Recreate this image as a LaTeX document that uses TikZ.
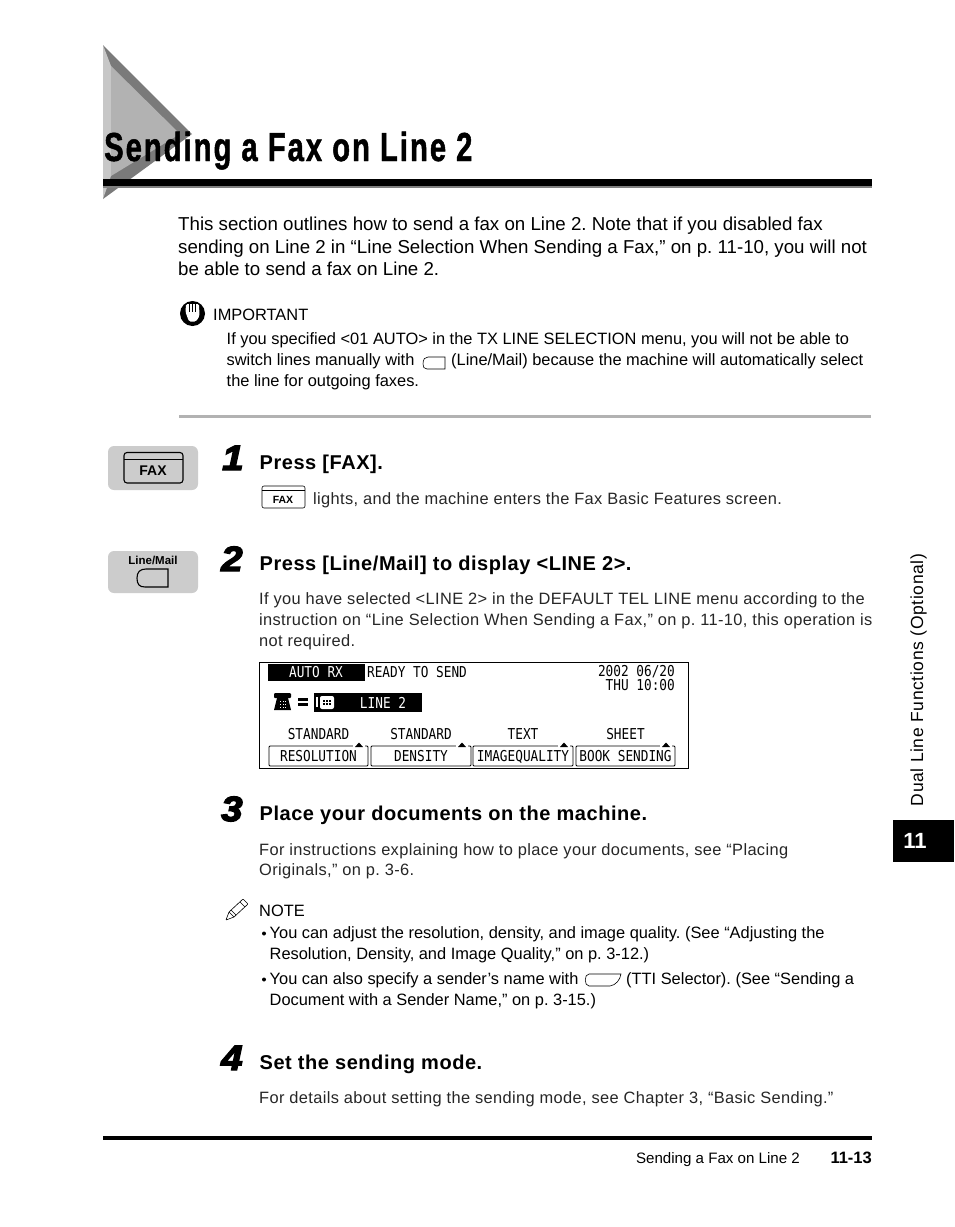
\documentclass[tikz,border=0pt]{standalone}
\usepackage{fontspec}
\setmainfont{Liberation Sans}
\newfontfamily\titlefont[FakeStretch=0.72,FakeBold=1.2,LetterSpace=5]{Liberation Sans}
\newfontfamily\stepfont[FakeBold=4,FakeStretch=1.1]{Liberation Sans}
\newfontfamily\softfont[LetterSpace=2.2]{Liberation Sans}
\newfontfamily\headfont[LetterSpace=2.7]{Liberation Sans}
\newfontfamily\sidefont[LetterSpace=3.5]{Liberation Sans}
\newfontfamily\lcdfont[FakeStretch=0.85]{DejaVu Sans Mono}
\definecolor{keygray}{gray}{0.8}
\frenchspacing
\tikzset{
  body/.style={anchor=base west, inner sep=0pt, font=\fontsize{18.7}{20}\selectfont},
  small/.style={anchor=base west, inner sep=0pt, font=\fontsize{16.4}{20}\selectfont},
  soft/.style={anchor=base west, inner sep=0pt, text=black!85, font=\fontsize{16.4}{20}\selectfont\softfont},
  head/.style={anchor=base west, inner sep=0pt, font=\fontsize{20}{20}\selectfont\headfont\bfseries},
  stepnum/.style={anchor=base west, inner sep=0pt, font=\fontsize{35}{36}\selectfont\stepfont\bfseries\itshape},
  keypad/.style={fill=keygray, rounded corners=6pt},
  lcd/.style={anchor=base, inner sep=0pt, font=\fontsize{15}{15}\selectfont\lcdfont},
  softkey/.style={draw, line width=0.9pt, rounded corners=1pt}
}
\begin{document}
\begin{tikzpicture}[x=1pt, y=-1pt]
\useasboundingbox (0, 0) rectangle (954, 1227);
\fill[white] (0, 0) rectangle (954, 1227);

% title triangle
\fill[black!52] (103, 45) -- (192, 134) -- (103, 199) -- cycle;
\fill[black!22] (103, 45) -- (111, 66) -- (111, 176) -- (103, 199) -- cycle;
\fill[black!30] (111, 66) -- (180, 134) -- (111, 176) -- cycle;
\fill[black] (103, 179) rectangle (872, 186);
\fill[black!50] (103, 186) rectangle (872, 188);
\node[anchor=base west, inner sep=0pt, font=\fontsize{40.5}{41}\selectfont\titlefont\bfseries] (title) at (104, 161) {Sending a Fax on Line 2};

% intro
\node[body] (intro1) at (178, 230) {This section outlines how to send a fax on Line 2. Note that if you disabled fax};
\node[body] (intro2) at (178, 253) {sending on Line 2 in “Line Selection When Sending a Fax,” on p. 11-10, you will not};
\node[body] (intro3) at (178, 275) {be able to send a fax on Line 2.};

% important
\fill[black] (192.5, 313.5) circle (12.5);
\fill[white, rounded corners=1.5pt] (185.5, 312) -- (186, 304) -- (199, 304) -- (199.5, 316) -- (196, 321.5) -- (189, 321.5) -- cycle;
\foreach \x in {189, 192, 195.5} \draw[black, line width=0.7pt] (\x, 303) -- (\x, 312);
\node[small] (important) at (213, 320) {IMPORTANT};
\node[small] (imp1) at (226.5, 344) {If you specified <01 AUTO> in the TX LINE SELECTION menu, you will not be able to};
\node[small] (imp2) at (226.5, 365) {switch lines manually with};
\draw[line width=0.6pt] (445, 357) -- (445, 369) -- (427, 369) .. controls (424, 369) and (423, 367) .. (423, 364) .. controls (423, 359) and (425, 357) .. (428, 357) -- cycle;
\node[small] (imp3) at (451, 365) {(Line/Mail) because the machine will automatically select};
\node[small] (imp4) at (226.5, 386) {the line for outgoing faxes.};
\fill[black!30] (179, 415) rectangle (871, 418);

% step 1
\fill[keypad] (108, 446) rectangle (198, 490);
\draw[line width=1.1pt, rounded corners=3pt] (124, 452.5) rectangle (183, 483);
\draw[line width=0.5pt] (124, 459) -- (183, 459);
\node[anchor=base, inner sep=0pt, font=\fontsize{14}{14}\selectfont\bfseries] (faxkey) at (153, 475) {FAX};
\node[stepnum] (num1) at (222, 470) {1};
\node[head] (press1) at (259.5, 469) {Press [FAX].};
\draw[line width=0.6pt, rounded corners=2pt] (262, 486) rectangle (305, 508);
\draw[line width=0.4pt] (262, 490) -- (305, 490);
\node[anchor=base, inner sep=0pt, font=\fontsize{10.5}{11}\selectfont\bfseries] (faxsmall) at (283, 503) {FAX};
\node[soft] (lights) at (313, 504) {lights, and the machine enters the Fax Basic Features screen.};

% step 2
\fill[keypad] (108, 551) rectangle (198, 593);
\node[anchor=base, inner sep=0pt, font=\fontsize{11.5}{12}\selectfont\bfseries] (linekey) at (153, 564) {Line/Mail};
\draw[line width=1.1pt] (168, 569) -- (168, 587) -- (145, 587) .. controls (139, 587) and (137, 584) .. (137, 578) .. controls (137, 572) and (140, 569) .. (146, 569) -- cycle;
\node[stepnum] (num2) at (221, 571) {2};
\node[head] (press2) at (259.5, 570) {Press [Line/Mail] to display <LINE 2>.};
\node[soft] (def1) at (259, 604) {If you have selected <LINE 2> in the DEFAULT TEL LINE menu according to the};
\node[soft] (def2) at (259, 625) {instruction on “Line Selection When Sending a Fax,” on p. 11-10, this operation is};
\node[soft] (def3) at (259, 646) {not required.};

% screen
\draw[line width=0.8pt] (259.5, 662) rectangle (688.5, 768);
\fill[black] (268, 664) rectangle (365, 681);
\node[lcd, text=white] (autorx) at (316, 677) {AUTO RX};
\node[lcd] (ready) at (417, 677) {READY TO SEND};
\node[lcd, anchor=base east] (date) at (675, 676) {2002 06/20};
\node[lcd, anchor=base east] (time) at (675, 690) {THU 10:00};
\fill[black, rounded corners=1pt] (274, 693) rectangle (291, 698);
\fill[black] (277, 698) -- (288, 698) -- (291, 710) -- (274, 710) -- cycle;
\foreach \x in {280, 282.5, 285} \foreach \y in {701, 704, 707} \fill[white] (\x, \y) rectangle ++(1, 1);
\fill[black] (298, 698) rectangle (308, 700.5);
\fill[black] (298, 703) rectangle (308, 705.5);
\fill[black] (314, 693) rectangle (422, 712);
\fill[white, rounded corners=2pt] (320, 696) rectangle (334, 709);
\fill[white] (316, 697) rectangle (318, 707);
\foreach \x in {323, 326, 329} \foreach \y in {700, 703} \fill[black] (\x, \y) rectangle ++(2, 1.5);
\node[lcd, text=white] (line2) at (383, 708) {LINE 2};
\node[lcd] (std1) at (318.5, 739.5) {STANDARD};
\node[lcd] (std2) at (421, 739.5) {STANDARD};
\node[lcd] (text) at (523, 739.5) {TEXT};
\node[lcd] (sheet) at (625.5, 739.5) {SHEET};
\foreach \xa/\xb/\txt/\nm in {269/368/RESOLUTION/res, 371/471/DENSITY/den, 473/573/IMAGEQUALITY/img, 576/675/BOOK SENDING/book} {
  \draw[softkey] (\xa, 746) rectangle (\xb, 766);
  \fill[white] (\xb-15, 744) rectangle (\xb-3, 748);
  \fill[black] (\xb-13, 747) -- (\xb-9, 742.5) -- (\xb-5, 747) -- cycle;
  \node[lcd] (\nm) at ({(\xa+\xb)/2}, 761) {\txt};
}

% step 3
\node[stepnum] (num3) at (221, 821) {3};
\node[head] (press3) at (259.5, 820) {Place your documents on the machine.};
\node[soft] (inst1) at (259, 855) {For instructions explaining how to place your documents, see “Placing};
\node[soft] (inst2) at (259, 875) {Originals,” on p. 3-6.};

% note
\draw[line width=0.6pt, rounded corners=0.5pt] (226, 920) -- (229, 912) -- (243, 899) -- (248, 904) -- (234, 917) -- cycle;
\draw[line width=0.5pt] (229, 912) -- (234, 917) (231, 910) -- (236, 915) (240, 902) -- (245, 907);
\node[small] (note) at (259, 916) {NOTE};
\fill[black] (264, 933.5) circle (2);
\node[small] (note1) at (269.5, 938) {You can adjust the resolution, density, and image quality. (See “Adjusting the};
\node[small] (note2) at (269.5, 959) {Resolution, Density, and Image Quality,” on p. 3-12.)};
\fill[black] (264, 979.5) circle (2);
\node[small] (note3) at (269.5, 984) {You can also specify a sender’s name with};
\draw[line width=0.6pt] (589, 974) -- (621, 974) .. controls (620, 980) and (616, 985) .. (610, 986) -- (589, 986) .. controls (584, 986) and (584, 974) .. (589, 974);
\node[small] (note4) at (626, 984) {(TTI Selector). (See “Sending a};
\node[small] (note5) at (269.5, 1005) {Document with a Sender Name,” on p. 3-15.)};

% step 4
\node[stepnum] (num4) at (221, 1070) {4};
\node[head] (press4) at (259.5, 1069) {Set the sending mode.};
\node[soft] (mode) at (259, 1103) {For details about setting the sending mode, see Chapter 3, “Basic Sending.”};

% footer
\fill[black] (103, 1136) rectangle (872, 1140);
\node[anchor=base east, inner sep=0pt, font=\fontsize{15.1}{16}\selectfont] (footer) at (800, 1163) {Sending a Fax on Line 2};
\node[anchor=base east, inner sep=0pt, font=\fontsize{16.5}{17}\selectfont\bfseries] (page) at (872, 1163) {11-13};

% side tab
\fill[black] (893, 820) rectangle (954, 862);
\node[anchor=base, inner sep=0pt, text=white, font=\fontsize{22}{22}\selectfont\bfseries] (tab) at (915, 848) {11};
\node[anchor=base, rotate=90, inner sep=0pt, font=\fontsize{17.5}{18}\selectfont\sidefont] (side) at (923, 680) {Dual Line Functions (Optional)};

\end{tikzpicture}
\end{document}
